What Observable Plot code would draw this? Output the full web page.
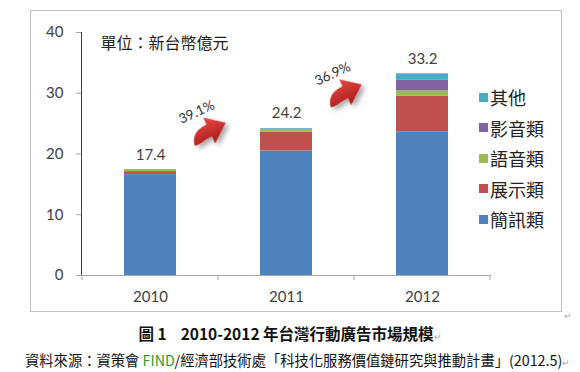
<!DOCTYPE html>
<html><head><meta charset="utf-8">
<script src="https://cdn.jsdelivr.net/npm/d3@7"></script>
<script src="https://cdn.jsdelivr.net/npm/@observablehq/plot@0.6"></script>
<style>
body{margin:0;background:#fff;}
#wrap{position:relative;width:580px;height:372px;overflow:hidden;font-family:Lato,"Noto Sans CJK TC",sans-serif;}
#chart{position:absolute;left:0;top:0;}
#legend{position:absolute;left:479px;top:82px;}
#legend > div{font-family:"Noto Sans CJK TC",sans-serif !important;font-size:18px !important;margin:0 !important;color:#222 !important;}
#legend > div > div{height:30.5px;padding:0 !important;display:flex;align-items:center;}
#legend svg{margin-right:2px !important;}
#chart [aria-label^="y-axis"] line,#chart [aria-label^="y-axis"] path{stroke:#a6a6a6;}
.cap{position:absolute;line-height:20px;white-space:nowrap;color:#111;}
.pm{font-size:9px;color:#aaa;font-weight:normal;}
</style></head>
<body>
<div id="wrap">
  <div id="chart"></div>
  <div id="legend"></div>
  <div class="cap" id="caption" style="left:0;width:580px;top:323px;text-align:center;font-family:'Noto Sans CJK TC',sans-serif;font-weight:bold;font-size:15.5px;">圖 1&nbsp;&nbsp;&nbsp;&nbsp;2010-2012 年台灣行動廣告市場規模<span class="pm">↵</span></div>
  <div class="cap" id="source" style="left:25px;top:350px;font-family:'Noto Sans CJK TC',sans-serif;font-size:14.3px;">資料來源：資策會 <span style="color:#2f9a2f">FIND</span>/經濟部技術處「科技化服務價值鏈研究與推動計畫」(2012.5)<span class="pm">↵</span></div>
  <div class="cap pm" style="left:564px;top:306px;">↵</div>
</div>
<script>
const years = ["2010", "2011", "2012"];
const categories = ["簡訊類", "展示類", "語音類", "影音類", "其他"];
const colors = ["#4F81BD", "#C0504D", "#9BBB59", "#8064A2", "#4BACC6"];
const sms = [16.6, 20.5, 23.6];
const display = [0.5, 3.1, 5.9];
const voice = [0.2, 0.4, 0.9];
const video = [0.1, 0.1, 1.8];
const other = [0.0, 0.1, 1.0];
const totals = [17.4, 24.2, 33.2];
const growth = ["39.1%", "36.9%"];
const growthLevel = [23.7, 30.0];
const unitLabel = "單位：新台幣億元";
const yTicks = [0, 10, 20, 30, 40];

const series = [sms, display, voice, video, other];
const rows = [];
categories.forEach((c, i) => years.forEach((y, j) => rows.push({year: y, cat: c, value: series[i][j]})));
const totalRows = years.map((y, j) => ({year: y, total: totals[j]}));

const W = 580, H = 318;
const chart = Plot.plot({
  width: W, height: H,
  marginLeft: 81, marginRight: 89, marginTop: 32, marginBottom: 43,
  style: {fontFamily: "Lato, 'Noto Sans CJK TC', sans-serif", fontSize: "15px", color: "#404040", background: "transparent"},
  x: {domain: years, paddingInner: 0.614, paddingOuter: 0.307, tickSize: 0, tickPadding: 16, label: null},
  y: {domain: [0, 40], ticks: yTicks, tickSize: 5, tickPadding: 13, line: true, label: null, tickFormat: d => String(d)},
  color: {domain: categories, range: colors},
  marks: [
    Plot.barY(rows, {x: "year", y: "value", fill: "cat", order: categories}),
    Plot.ruleY([0], {stroke: "#a6a6a6"}),
    Plot.text(totalRows, {x: "year", y: "total", text: d => d.total.toFixed(1), dy: -15, fill: "#404040", fontSize: 15}),
    Plot.text([unitLabel], {frameAnchor: "top-left", textAnchor: "start", lineAnchor: "middle", dx: 19, dy: 11, fontSize: 16, fill: "#222", fontFamily: "'Noto Sans CJK TC', sans-serif"})
  ]
});
document.getElementById("chart").appendChild(chart);

// decorations using the plot's own scales
const svg = d3.select(chart);
const xs = chart.scale("x"), ys = chart.scale("y");
const bw = xs.bandwidth, step = xs.step;
const boundary = v => xs.apply(v) + bw + (step - bw) / 2;
const x0 = xs.apply(years[0]) - (step - bw) / 2;

// outer frame
svg.insert("rect", ":first-child").attr("x", 30.5).attr("y", 10.5).attr("width", 531).attr("height", 301)
  .attr("fill", "none").attr("stroke", "#bfbfbf");

// category boundary ticks on x axis
const y0 = ys.apply(0);
const bx = [x0, ...years.map(boundary)];
svg.append("g").selectAll("line").data(bx).join("line")
  .attr("x1", d => d).attr("x2", d => d).attr("y1", y0).attr("y2", y0 + 5)
  .attr("stroke", "#a6a6a6");

// growth arrows
const defs = svg.append("defs");
const g1 = defs.append("linearGradient").attr("id", "ag").attr("x1", 0).attr("y1", 0).attr("x2", 0).attr("y2", 1);
g1.append("stop").attr("offset", "0%").attr("stop-color", "#e84a43");
g1.append("stop").attr("offset", "100%").attr("stop-color", "#a8191b");
const f = defs.append("filter").attr("id", "sh").attr("x", "-50%").attr("y", "-50%").attr("width", "200%").attr("height", "200%");
f.append("feDropShadow").attr("dx", 1.5).attr("dy", 3).attr("stdDeviation", 2).attr("flood-color", "#000").attr("flood-opacity", 0.35);

growth.forEach((g, i) => {
  const cx = boundary(years[i]) - 10;
  const cy = ys.apply(growthLevel[i]);
  const grp = svg.append("g").attr("transform", `translate(${cx},${cy})`);
  grp.append("path")
    .attr("d", "M-14,6 C-13,-1 -8,-5 1,-5 L1,-11 L15,0 L1,11 L1,5 C-5,5 -10,7 -14,6 Z")
    .attr("transform", "rotate(-25) scale(1.3)")
    .attr("fill", "url(#ag)").attr("stroke", "none").attr("filter", "url(#sh)");
  grp.append("text").text(g)
    .attr("transform", "translate(-11,-18) rotate(-25)")
    .attr("text-anchor", "middle").attr("dominant-baseline", "middle")
    .attr("font-size", 13.5).attr("fill", "#333");
});

// legend
const leg = Plot.legend({
  color: {domain: categories.slice().reverse(), range: colors.slice().reverse()},
  legend: "swatches", columns: 1, swatchSize: 9, className: "lg"
});
document.getElementById("legend").appendChild(leg);
</script>
</body></html>
